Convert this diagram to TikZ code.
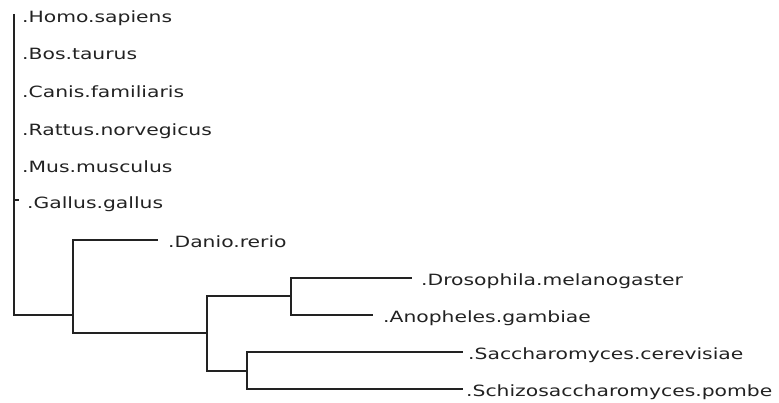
\documentclass[tikz,border=0pt]{standalone}
\usepackage{fontspec}
\newfontfamily\leaffont{DejaVu Sans}[FakeStretch=1.31]
\definecolor{ink}{HTML}{222222}
\begin{document}
\begin{tikzpicture}[x=1pt,y=-1pt,
  branch/.style={draw=ink,line width=1.4pt},
  leaf/.style={anchor=base west,inner sep=0pt,text=ink,font=\leaffont\fontsize{15.5}{18}\selectfont}]
\useasboundingbox (0,0) rectangle (779,403);

% leaf labels
\node[leaf] (hs) at (22,22.5)  {.Homo.sapiens};
\node[leaf] (bt) at (22,59.5)  {.Bos.taurus};
\node[leaf] (cf) at (22,97.5)  {.Canis.familiaris};
\node[leaf] (rn) at (22,135.5) {.Rattus.norvegicus};
\node[leaf] (mm) at (22,172.5) {.Mus.musculus};
\node[leaf] (gg) at (27,208.5) {.Gallus.gallus};
\node[leaf] (dr) at (168,247.5) {.Danio.rerio};
\node[leaf] (dm) at (421,285.5) {.Drosophila.melanogaster};
\node[leaf] (ag) at (383,322.5) {.Anopheles.gambiae};
\node[leaf] (sc) at (468,359.5) {.Saccharomyces.cerevisiae};
\node[leaf] (sp) at (466,396.5) {.Schizosaccharomyces.pombe};

% internal nodes
\coordinate (root) at (14,315);
\coordinate (rtop) at (14,14);
\coordinate (ggt)  at (19,200);
\coordinate (n1)   at (73,315);
\coordinate (n2)   at (207,333);
\coordinate (n3)   at (291,296);
\coordinate (n4)   at (247,371);

% branch tips
\coordinate (drt) at (158,240);
\coordinate (dmt) at (412,278);
\coordinate (agt) at (373,315);
\coordinate (sct) at (463,352);
\coordinate (spt) at (463,389);

% tree
\draw[branch] (rtop) -- (root) -- (n1);
\draw[branch] (root |- ggt) -- (ggt);
\draw[branch] (n1) |- (drt);
\draw[branch] (n1) |- (n2);
\draw[branch] (n2) |- (n3);
\draw[branch] (n2) |- (n4);
\draw[branch] (n3) |- (dmt);
\draw[branch] (n3) |- (agt);
\draw[branch] (n4) |- (sct);
\draw[branch] (n4) |- (spt);
\end{tikzpicture}
\end{document}
